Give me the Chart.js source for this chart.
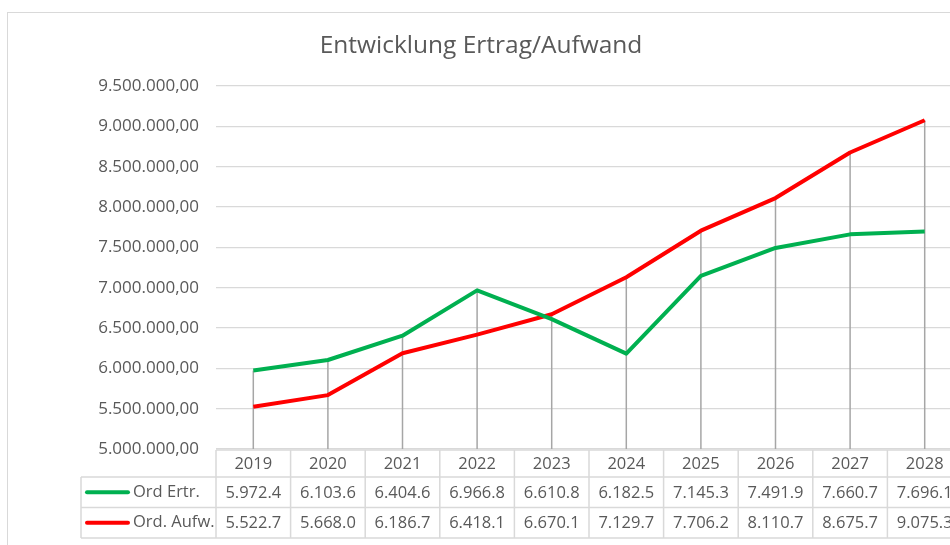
<!DOCTYPE html>
<html>
<head>
<meta charset="utf-8">
<script src="https://cdn.jsdelivr.net/npm/chart.js@4/dist/chart.umd.min.js"></script>
<style>
  html, body { margin: 0; padding: 0; background: #fff; overflow: hidden; width: 950px; height: 545px; }
  #frame { position: absolute; left: 7px; top: 12px; width: 1000px; height: 600px; border: 1px solid #d9d9d9; }
  #wrap { position: absolute; left: 0; top: 0; width: 970px; height: 545px; }
</style>
</head>
<body>
<div id="frame"></div>
<div id="wrap"><canvas id="chart" width="970" height="545"></canvas></div>
<script>
var years = ['2019', '2020', '2021', '2022', '2023', '2024', '2025', '2026', '2027', '2028'];
var ordErtrag = [5972.4, 6103.6, 6404.6, 6966.8, 6610.8, 6182.5, 7145.3, 7491.9, 7660.7, 7696.1];
var ordAufwand = [5522.7, 5668.0, 6186.7, 6418.1, 6670.1, 7129.7, 7706.2, 8110.7, 8675.7, 9075.3];
var seriesNames = ['Ord Ertr.', 'Ord. Aufw.'];
var seriesColors = ['#00b050', '#ff0000'];

var textColor = '#595959';
var fontFamily = '"Open Sans", "Noto Sans", sans-serif';

function groupDots(n) {
  return String(n).replace(/\B(?=(\d{3})+(?!\d))/g, '.');
}
function tickLabel(v) {
  return groupDots(Math.round(v)) + ',00';
}
function tableLabel(v) {
  var parts = v.toFixed(1).split('.');
  return groupDots(parts[0]) + '.' + parts[1];
}

// vertical drop lines from the higher point down to the axis
var dropLines = {
  id: 'dropLines',
  beforeDatasetsDraw: function(chart) {
    var ctx = chart.ctx, x = chart.scales.x, y = chart.scales.y;
    ctx.save();
    ctx.strokeStyle = '#a6a6a6';
    ctx.lineWidth = 1.5;
    years.forEach(function(yr, i) {
      var top = y.getPixelForValue(Math.max(ordErtrag[i], ordAufwand[i]) * 1000);
      var px = x.getPixelForValue(i);
      ctx.beginPath();
      ctx.moveTo(px, top);
      ctx.lineTo(px, chart.chartArea.bottom);
      ctx.stroke();
    });
    ctx.restore();
  }
};

// Excel style data table under the plot
var dataTable = {
  id: 'dataTable',
  afterDraw: function(chart) {
    var ctx = chart.ctx, area = chart.chartArea, x = chart.scales.x;
    var n = years.length;
    var colW = (area.right - area.left) / n;
    var keyLeft = 81;
    var rows = [area.bottom + 1, area.bottom + 28, area.bottom + 58.5, area.bottom + 89];
    var rowData = [ordErtrag, ordAufwand];
    ctx.save();
    ctx.strokeStyle = '#d9d9d9';
    ctx.lineWidth = 1.5;
    ctx.beginPath();
    ctx.moveTo(area.left, rows[0]); ctx.lineTo(area.right, rows[0]);
    for (var r = 1; r < rows.length; r++) {
      ctx.moveTo(keyLeft, rows[r]); ctx.lineTo(area.right, rows[r]);
    }
    ctx.moveTo(keyLeft, rows[1]); ctx.lineTo(keyLeft, rows[3]);
    for (var c = 0; c <= n; c++) {
      var cx = area.left + c * colW;
      ctx.moveTo(cx, rows[0]); ctx.lineTo(cx, rows[3]);
    }
    ctx.stroke();

    ctx.fillStyle = textColor;
    ctx.font = '16.5px ' + fontFamily;
    ctx.textAlign = 'center';
    ctx.textBaseline = 'middle';
    years.forEach(function(yr, i) {
      var px = x.getPixelForValue(i);
      ctx.fillText(yr, px, (rows[0] + rows[1]) / 2 + 1);
      rowData.forEach(function(arr, k) {
        ctx.fillText(tableLabel(arr[i]), px, (rows[k + 1] + rows[k + 2]) / 2 + 1);
      });
    });

    seriesNames.forEach(function(name, k) {
      var cy = (rows[k + 1] + rows[k + 2]) / 2;
      ctx.strokeStyle = seriesColors[k];
      ctx.lineWidth = 4;
      ctx.lineCap = 'round';
      ctx.beginPath();
      ctx.moveTo(87, cy); ctx.lineTo(128, cy);
      ctx.stroke();
      ctx.fillStyle = textColor;
      ctx.textAlign = 'left';
      ctx.fillText(name, 133, cy);
    });
    ctx.restore();
  }
};

new Chart(document.getElementById('chart').getContext('2d'), {
  type: 'line',
  data: {
    labels: years,
    datasets: [
      {label: seriesNames[0], data: ordErtrag.map(function(v) { return v * 1000; }), borderColor: seriesColors[0]},
      {label: seriesNames[1], data: ordAufwand.map(function(v) { return v * 1000; }), borderColor: seriesColors[1]}
    ]
  },
  options: {
    responsive: false,
    animation: false,
    layout: {padding: {top: 20, left: 0, right: 8, bottom: 96}},
    elements: {
      line: {borderWidth: 4, tension: 0, borderJoinStyle: 'round'},
      point: {radius: 0, hoverRadius: 0}
    },
    plugins: {
      legend: {display: false},
      tooltip: {enabled: false},
      title: {
        display: true,
        text: 'Entwicklung Ertrag/Aufwand',
        color: textColor,
        font: {family: fontFamily, size: 24.5, weight: 'normal'},
        padding: {top: 11, bottom: 25.6}
      }
    },
    scales: {
      x: {type: 'category', offset: true, display: false},
      y: {
        min: 5000000,
        max: 9500000,
        afterFit: function(scale) { scale.width = 216; },
        ticks: {
          stepSize: 500000,
          padding: 17,
          color: textColor,
          font: {family: fontFamily, size: 17},
          callback: function(v) { return tickLabel(v); }
        },
        grid: {color: '#d9d9d9', lineWidth: 1.2, drawTicks: false},
        border: {display: false}
      }
    }
  },
  plugins: [dropLines, dataTable]
});
</script>
</body>
</html>
